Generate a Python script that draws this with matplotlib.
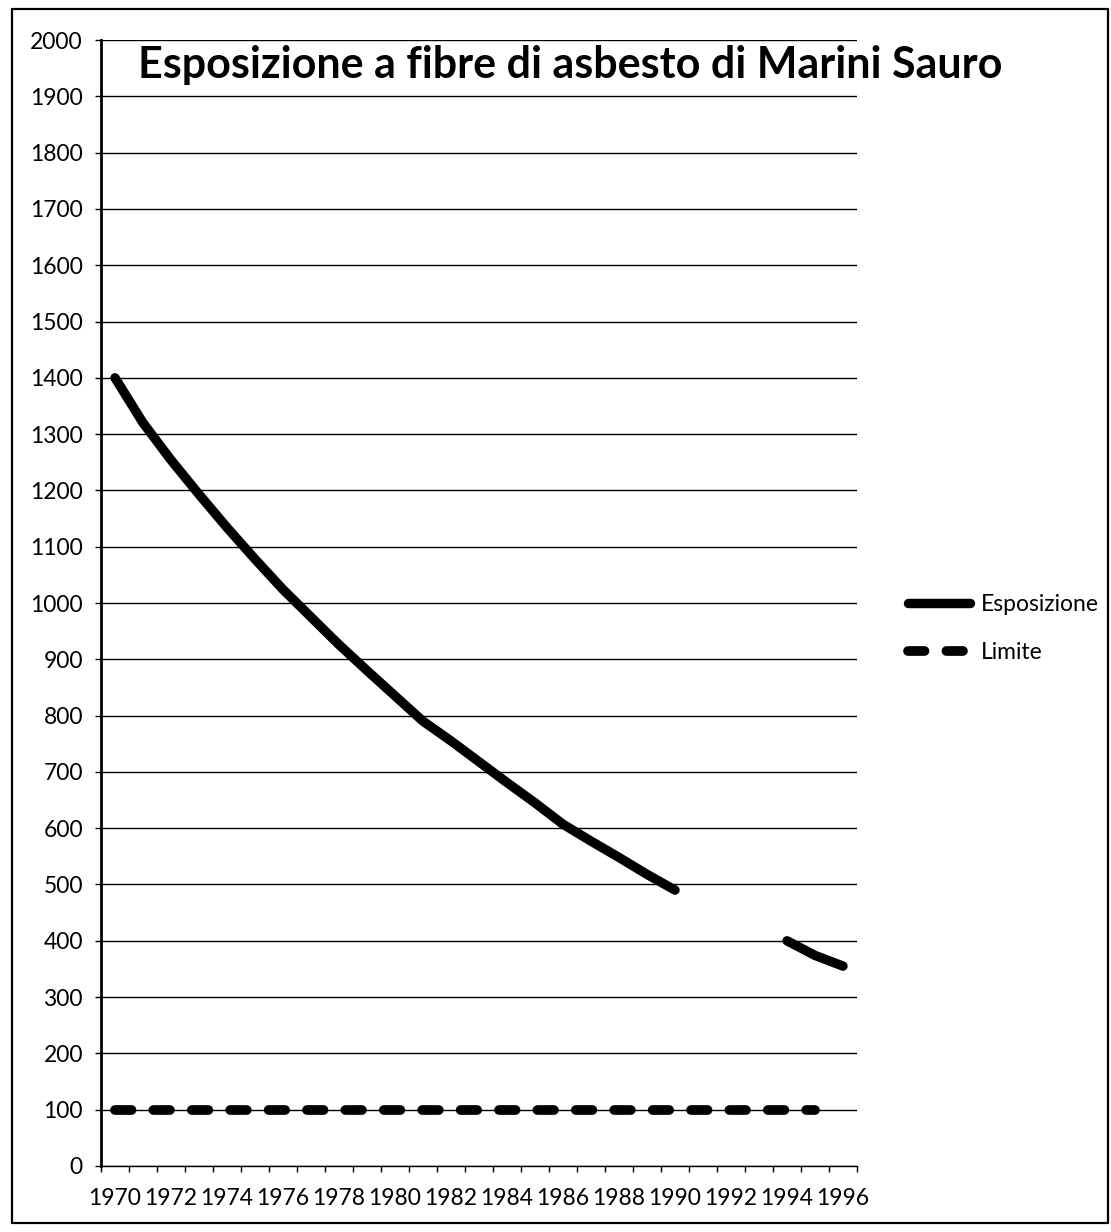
"""
Esposizione annua a fibre di asbesto confrontata con il valore limite.
Output: out.png
"""

import numpy as np
import matplotlib
matplotlib.use("Agg")
import matplotlib.pyplot as plt
from matplotlib.patches import Rectangle

plt.rcParams["font.family"] = ["Lato", "DejaVu Sans"]

TITLE = "Esposizione a fibre di asbesto di Marini Sauro"

years = list(range(1970, 1997))
# f/l per anno; 1991-1993 senza misura
esposizione = [1400, 1320, 1254, 1193, 1134, 1078, 1024, 975, 926, 880,
               835, 790, 755, 718, 681, 645, 607, 577, 548, 518,
               490, None, None, None, 400, 374, 355]
limite = [100] * 26 + [None]

year_ticks = list(range(1970, 1997, 2))
y_ticks = list(range(0, 2001, 100))

exp_vals = np.array([np.nan if v is None else v for v in esposizione], dtype=float)
lim_vals = np.array([np.nan if v is None else v for v in limite], dtype=float)

fig = plt.figure(figsize=(11.11, 12.32), dpi=100)
ax = fig.add_axes([0.0909, 0.0536, 0.6805, 0.9139])

ax.plot(years, exp_vals, color="black", linewidth=6.8,
        solid_capstyle="round", solid_joinstyle="round", label="Esposizione", zorder=3)
ax.plot(years, lim_vals, color="black", linewidth=7.0, dashes=(1.7, 2.25),
        dash_capstyle="round", label="Limite", zorder=3)

ax.set_xlim(1969.5, 1996.5)
ax.set_ylim(0, 2000)
ax.set_yticks(y_ticks)
ax.set_xticks(year_ticks)
ax.set_xticks(np.arange(1969.5, 1997, 1), minor=True)

ax.grid(axis="y", color="black", linewidth=1.0, zorder=1)
ax.set_axisbelow(True)

for side in ("top", "right"):
    ax.spines[side].set_visible(False)
ax.spines["left"].set_linewidth(2.0)
ax.spines["bottom"].set_linewidth(1.0)

ax.tick_params(axis="y", direction="out", length=4, width=1, pad=9,
               labelsize=16.5, colors="black")
ax.tick_params(axis="x", which="major", length=0, pad=16, labelsize=16.5)
ax.tick_params(axis="x", which="minor", direction="out", length=4, width=1)

fig.text(0.513, 0.947, TITLE, ha="center", va="center",
         fontsize=31, fontweight="bold")

ax.legend(loc="center left", bbox_to_anchor=(1.040, 0.477), frameon=False,
          fontsize=16.5, handlelength=2.7, handletextpad=0.5,
          labelspacing=1.18)

# cornice esterna del grafico
fig.patches.append(Rectangle((0.011, 0.007), 0.986, 0.986, transform=fig.transFigure,
                             fill=False, edgecolor="black", linewidth=1.6))

fig.savefig("out.png", dpi=100)
